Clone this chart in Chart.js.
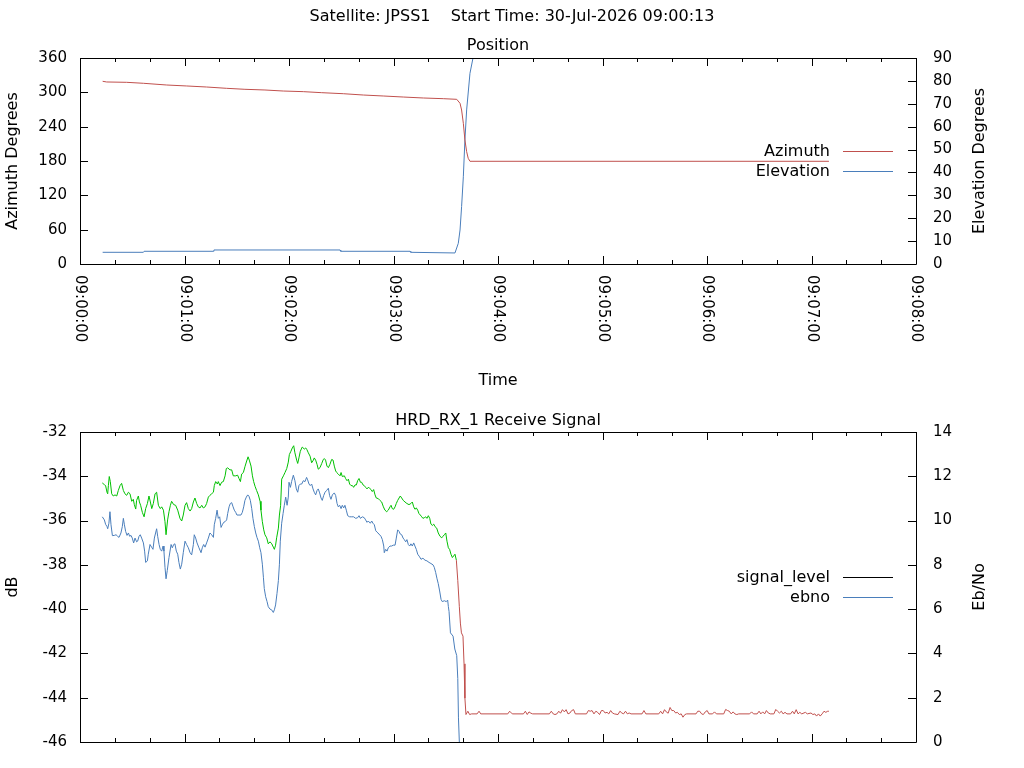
<!DOCTYPE html>
<html>
<head>
<meta charset="utf-8">
<title>JPSS1 pass</title>
<script src="https://cdn.jsdelivr.net/npm/chart.js@4.4.1/dist/chart.umd.min.js"></script>
<style>
  html, body { margin: 0; padding: 0; background: #fff; overflow: hidden; }
  #wrap { position: relative; width: 1024px; height: 768px; }
  canvas { position: absolute; left: 0; }
  #position-chart { top: 0; }
  #signal-chart { top: 400px; }
</style>
</head>
<body>
<div id="wrap">
  <canvas id="position-chart" width="1024" height="400"></canvas>
  <canvas id="signal-chart" width="1024" height="368"></canvas>
</div>
<script>
// seconds after 09:00:00
var timeLabels = ['09:00:00', '09:01:00', '09:02:00', '09:03:00', '09:04:00',
                  '09:05:00', '09:06:00', '09:07:00', '09:08:00'];

// [seconds, degrees]
var azimuth = [
  [13, 319.3], [15.3, 318.1], [26.8, 317.5], [36.4, 315.8], [49.8, 312.8], [61.3, 311.1],
  [72.7, 309.3], [84.2, 307.0], [94.7, 305.3], [106.2, 304.1], [116.7, 302.3], [128.2, 301.2],
  [138.8, 299.4], [151.2, 297.6], [162.7, 295.3], [174.1, 293.6], [185.6, 291.8], [197.1, 290.1],
  [208.6, 288.9], [216.3, 287.8], [218.2, 280.8], [219.1, 269.1], [220.1, 245.9], [221.0, 216.7],
  [222.0, 196.3], [222.9, 184.7], [223.9, 179.5], [430, 179.5]
];
var elevation = [
  [13, 5.11], [36.4, 5.11], [36.8, 5.55], [76.5, 5.55], [76.9, 6.13], [149.3, 6.13],
  [149.7, 5.55], [189.5, 5.55], [189.9, 5.11], [215.3, 4.82], [217.2, 9.03], [218.2, 14.85],
  [219.1, 25.07], [220.1, 38.1], [221.0, 54.2], [222.0, 67.3], [223.9, 83.3], [225.8, 90.6]
];

// [seconds, dB]
var signalLevel = [
  [12.8,-35.83],[14.0,-35.97],[14.7,-36.17],[15.5,-36.27],[15.9,-36.37],[16.6,-36.12],[17.2,-35.60],
  [17.8,-36.19],[18.6,-36.68],[19.7,-36.67],[20.7,-36.64],[21.6,-36.71],[22.4,-36.76],[23.5,-36.56],
  [24.3,-36.27],[24.9,-35.90],[25.5,-36.19],[26.2,-36.49],[27.0,-36.67],[27.8,-36.56],[28.5,-36.71],
  [29.3,-36.67],[30.0,-36.79],[30.8,-37.01],[31.6,-36.79],[32.5,-36.96],[33.1,-36.93],[33.9,-36.71],
  [34.6,-36.64],[35.4,-36.79],[36.4,-37.01],[37.1,-37.38],[37.7,-37.89],[38.7,-37.82],[39.2,-37.52],
  [40.2,-37.08],[41.1,-37.20],[41.9,-37.30],[42.7,-36.79],[43.4,-36.56],[44.0,-36.37],[44.6,-36.71],
  [45.4,-37.08],[46.1,-37.30],[46.9,-37.38],[47.7,-37.15],[48.2,-37.38],[48.8,-38.11],[49.4,-38.63],
  [50.1,-38.26],[51.1,-37.67],[52.3,-37.08],[53.0,-37.23],[53.8,-37.08],[54.5,-37.05],[55.3,-37.38],
  [56.1,-37.52],[56.8,-37.89],[57.6,-38.19],[58.4,-37.97],[59.3,-37.45],[60.3,-36.93],[61.2,-37.08],
  [62.2,-37.23],[63.2,-37.45],[64.1,-37.55],[65.1,-37.08],[65.6,-36.64],[66.4,-36.79],[67.2,-37.01],
  [68.3,-37.23],[69.5,-37.45],[70.2,-37.23],[71.0,-37.08],[71.8,-37.20],[72.7,-37.01],[73.7,-36.79],
  [74.6,-36.56],[75.6,-36.64],[76.6,-36.76],[77.1,-36.19],[77.9,-35.90],[78.7,-35.53],[79.4,-35.90],
  [80.2,-35.83],[81.0,-36.31],[81.7,-36.19],[82.5,-36.08],[83.3,-36.05],[84.2,-35.97],[84.8,-35.68],
  [85.6,-35.38],[86.3,-35.23],[87.1,-35.19],[87.9,-35.38],[88.6,-35.53],[89.4,-35.63],[90.1,-35.75],
  [91.3,-35.75],[92.4,-35.75],[93.2,-35.63],[94.0,-35.38],[94.7,-35.09],[95.5,-34.94],[96.3,-34.84],
  [97.0,-34.90],[97.8,-35.09],[98.6,-35.46],[99.3,-35.90],[100.1,-36.27],[100.9,-36.56],[101.6,-36.76],
  [102.4,-36.93],[103.2,-37.23],[103.9,-37.45],[104.7,-37.97],[105.3,-38.56],[105.8,-39.07],[106.6,-39.44],
  [107.4,-39.66],[108.1,-39.89],[109.1,-40.00],[110.0,-40.03],[111.0,-40.15],[111.6,-40.03],[112.3,-39.81],
  [113.1,-39.30],[113.9,-38.71],[114.5,-37.97],[115.0,-36.93],[115.8,-36.12],[116.6,-35.68],[117.3,-35.31],
  [118.1,-34.94],[118.9,-35.31],[119.6,-34.94],[120.0,-34.27],[120.8,-34.50],[121.5,-34.24],[122.5,-33.95],
  [123.4,-34.20],[124.2,-34.57],[125.0,-34.72],[125.7,-34.42],[126.5,-34.35],[127.3,-34.35],[128.2,-34.20],
  [129.2,-34.24],[130.1,-34.05],[130.7,-34.16],[131.5,-34.35],[132.2,-34.42],[133.0,-34.35],[133.8,-34.57],
  [134.5,-34.72],[135.3,-34.84],[136.1,-34.64],[136.8,-34.57],[137.6,-34.75],[138.4,-34.98],[139.1,-35.09],
  [139.9,-34.87],[140.7,-34.72],[141.6,-34.64],[142.6,-34.54],[143.3,-34.87],[144.1,-35.04],[144.9,-34.84],
  [146.0,-34.75],[146.8,-34.87],[147.6,-35.23],[148.3,-35.38],[149.1,-35.31],[149.9,-35.46],[150.6,-35.31],
  [151.4,-35.43],[152.1,-35.31],[152.9,-35.53],[153.7,-35.78],[154.8,-35.83],[156.0,-35.83],[157.1,-35.83],
  [158.3,-35.90],[159.4,-35.87],[160.2,-35.78],[161.0,-35.90],[162.1,-35.83],[163.2,-35.87],[164.0,-35.97],
  [164.8,-36.08],[165.5,-36.02],[166.7,-36.12],[167.5,-36.02],[168.2,-36.12],[169.0,-36.19],[169.8,-36.46],
  [170.5,-36.52],[171.7,-36.61],[172.8,-36.71],[173.6,-36.86],[174.4,-37.15],[174.7,-37.45],[175.5,-37.30],
  [176.3,-37.38],[177.0,-37.23],[178.0,-37.15],[178.9,-37.15],[179.9,-37.11],[180.9,-37.11],[181.6,-36.79],
  [182.4,-36.42],[183.2,-36.49],[183.9,-36.61],[184.7,-36.64],[185.5,-36.79],[186.2,-36.86],[187.0,-36.96],
  [187.7,-36.86],[188.5,-37.08],[189.3,-37.15],[190.0,-37.05],[190.8,-37.15],[191.6,-37.01],[192.3,-37.15],
  [193.1,-37.30],[193.9,-37.52],[195.0,-37.64],[195.8,-37.75],[196.9,-37.70],[198.1,-37.79],[199.2,-37.82],
  [200.4,-37.89],[201.5,-37.94],[202.7,-38.00],[203.4,-38.11],[204.2,-38.34],[205.0,-38.63],[205.7,-38.85],
  [206.5,-39.18],[207.3,-39.56],[208.0,-39.66],[209.2,-39.62],[210.3,-39.66],[211.1,-39.59],[211.5,-39.89],
  [211.9,-40.11],[212.7,-41.07],[214.2,-41.22],[215.2,-41.80],[216.3,-42.10],[216.9,-43.13],[217.3,-44.91],
  [217.8,-46.0]
];

// [seconds, Eb/No]
var ebno = [
  [12.8,11.70],[14.0,11.62],[14.7,11.58],[15.5,11.28],[15.9,11.21],[16.3,11.58],[16.8,11.99],[17.4,11.76],
  [18.2,11.21],[19.1,11.11],[20.1,11.16],[21.1,11.11],[22.0,11.36],[23.0,11.58],[23.9,11.68],[24.9,11.36],
  [25.8,11.21],[26.8,11.14],[27.8,11.28],[28.7,11.21],[29.7,10.87],[30.6,10.96],[31.2,10.72],[32.0,10.52],
  [32.5,10.91],[33.5,11.11],[34.1,10.84],[34.8,10.69],[35.8,10.37],[36.8,10.17],[37.7,10.54],[38.7,10.77],
  [39.6,11.11],[40.4,10.84],[41.2,10.54],[42.1,10.77],[43.1,11.21],[44.0,11.28],[45.0,10.69],[46.1,10.54],
  [46.9,10.62],[47.9,10.47],[48.8,9.95],[49.4,9.36],[50.3,10.03],[51.1,10.40],[51.9,10.69],[52.6,10.87],
  [53.8,10.72],[54.9,10.69],[56.1,10.47],[57.4,10.10],[58.4,9.98],[59.3,10.25],[60.3,10.69],[61.2,10.81],
  [62.2,10.54],[63.2,10.43],[64.1,10.54],[65.1,10.84],[66.0,11.02],[67.0,10.77],[67.9,10.62],[68.9,10.57],
  [69.9,10.69],[70.8,10.57],[71.8,10.62],[72.7,10.77],[73.7,11.06],[74.6,11.14],[75.6,11.21],[76.6,11.28],
  [77.1,11.58],[77.9,11.76],[78.9,11.65],[79.4,11.76],[80.4,11.58],[81.3,11.73],[82.3,11.76],[83.3,12.02],
  [84.0,12.35],[84.8,12.38],[86.1,12.29],[87.1,12.29],[88.0,12.02],[89.4,12.02],[90.5,12.05],[91.3,11.90],
  [92.1,11.76],[92.8,12.10],[93.8,12.17],[94.7,12.43],[95.7,12.69],[96.5,12.88],[97.2,12.73],[98.2,12.46],
  [99.0,12.02],[99.7,11.76],[100.5,11.55],[101.4,11.36],[102.4,11.16],[103.4,10.87],[103.9,10.47],[104.7,9.95],
  [105.5,9.58],[106.2,9.36],[107.2,9.22],[108.1,8.95],[109.1,9.04],[110.1,8.95],[111.0,8.80],[111.6,8.70],
  [112.3,8.89],[112.9,9.22],[113.9,9.66],[114.5,10.25],[115.2,10.69],[115.8,11.87],[116.8,12.02],[117.7,12.17],
  [118.7,12.35],[119.6,12.64],[120.2,12.98],[121.1,13.13],[121.9,13.28],[122.7,13.38],[123.4,13.06],[124.4,12.73],
  [125.0,12.58],[125.7,12.83],[126.5,13.13],[127.6,13.32],[128.8,13.23],[129.6,13.28],[130.3,13.20],[131.1,13.06],
  [132.1,12.91],[133.0,12.61],[134.0,12.73],[134.5,12.83],[135.3,12.73],[136.1,12.54],[136.8,12.32],[137.8,12.39],
  [138.8,12.58],[139.7,12.76],[140.3,12.80],[141.0,12.73],[141.8,12.46],[142.6,12.39],[143.5,12.54],[144.5,12.76],
  [145.3,12.73],[146.0,12.46],[146.8,12.24],[147.4,12.17],[148.3,12.10],[149.3,12.02],[149.9,12.17],[150.6,11.99],
  [151.8,12.02],[152.5,11.90],[153.3,11.80],[154.1,11.87],[154.8,11.65],[155.6,11.58],[156.4,11.58],[157.1,11.50],
  [157.9,11.61],[158.7,11.61],[159.4,11.80],[160.2,11.90],[161.0,11.73],[161.7,11.73],[162.5,11.61],[163.2,11.58],
  [164.0,11.50],[164.8,11.43],[165.5,11.50],[166.3,11.46],[167.1,11.40],[167.8,11.31],[168.6,11.40],[169.4,11.16],
  [170.1,11.02],[171.3,10.99],[172.2,10.91],[173.2,10.84],[174.2,10.62],[175.1,10.47],[176.1,10.40],[177.0,10.47],
  [178.0,10.62],[178.6,10.69],[179.3,10.54],[180.1,10.51],[180.9,10.62],[181.6,10.77],[182.4,10.91],[183.2,11.02],
  [183.9,11.11],[184.7,11.02],[185.6,10.91],[186.6,10.84],[187.7,10.77],[188.9,10.72],[190.0,10.77],[190.8,10.84],
  [191.6,10.62],[192.3,10.51],[193.1,10.57],[193.9,10.47],[194.6,10.32],[195.4,10.25],[196.2,10.17],[196.9,10.10],
  [197.7,10.13],[198.5,10.17],[199.2,10.10],[200.0,10.22],[200.8,10.10],[201.5,9.84],[202.3,9.78],[203.1,9.84],
  [203.8,9.73],[204.8,9.66],[205.7,9.44],[206.7,9.29],[207.7,9.22],[208.4,9.29],[209.2,9.36],[210.0,9.44],
  [210.7,9.07],[211.5,8.77],[212.2,8.70],[213.0,8.48],[213.8,8.33],[214.5,8.40],[215.3,8.48],[216.1,8.21],
  [216.9,7.30],[217.8,6.11],[218.4,5.37],[219.0,4.93],[219.9,4.78],[220.5,3.53],[221.0,1.98],[221.6,1.24],
  [222.7,1.39],[223.7,1.24],[224.8,1.27],[228.0,1.27],[229.1,1.39],[230.1,1.27],[245.6,1.27],[246.7,1.39],
  [248.2,1.27],[254.6,1.27],[255.7,1.39],[256.8,1.24],[257.8,1.36],[258.9,1.30],[259.9,1.27],[269.5,1.27],
  [270.6,1.39],[271.7,1.27],[272.7,1.24],[273.8,1.27],[274.9,1.39],[275.9,1.30],[277.0,1.46],[278.1,1.36],
  [279.1,1.46],[280.2,1.27],[281.3,1.31],[282.3,1.42],[283.4,1.46],[284.4,1.27],[290.8,1.27],[291.9,1.42],
  [293.0,1.39],[294.0,1.42],[295.1,1.27],[296.2,1.39],[297.2,1.34],[298.3,1.24],[299.4,1.42],[300.4,1.42],
  [301.5,1.31],[302.6,1.34],[303.6,1.27],[304.7,1.42],[305.7,1.31],[306.8,1.27],[308.9,1.24],[310.0,1.39],
  [311.1,1.31],[312.1,1.27],[313.2,1.39],[314.3,1.27],[315.3,1.31],[316.4,1.27],[322.7,1.27],[323.8,1.42],
  [324.9,1.27],[332.3,1.27],[333.4,1.39],[334.5,1.27],[335.6,1.46],[336.6,1.36],[337.7,1.30],[338.8,1.56],
  [339.8,1.42],[340.9,1.42],[342.0,1.31],[343.0,1.34],[344.1,1.24],[345.2,1.27],[346.2,1.12],[347.3,1.24],
  [348.3,1.27],[353.7,1.27],[354.7,1.39],[355.8,1.39],[356.9,1.27],[357.9,1.24],[359.0,1.36],[360.1,1.42],
  [361.1,1.27],[363.2,1.27],[364.3,1.36],[365.4,1.27],[369.6,1.27],[370.7,1.47],[371.8,1.42],[372.8,1.39],
  [373.9,1.27],[375.0,1.36],[376.0,1.27],[377.1,1.24],[378.2,1.27],[384.5,1.27],[385.6,1.36],[386.7,1.27],
  [388.8,1.27],[389.9,1.39],[390.9,1.27],[392.0,1.36],[393.1,1.27],[394.1,1.42],[395.2,1.31],[396.3,1.27],
  [398.4,1.27],[399.5,1.47],[400.5,1.39],[401.6,1.31],[402.7,1.39],[403.7,1.27],[404.8,1.34],[405.9,1.27],
  [408.0,1.27],[409.1,1.39],[410.1,1.27],[411.2,1.46],[412.3,1.27],[413.3,1.34],[414.4,1.27],[416.5,1.34],
  [417.6,1.27],[419.7,1.31],[420.8,1.24],[421.9,1.27],[422.9,1.17],[424.0,1.27],[425.0,1.17],[426.1,1.27],
  [427.2,1.39],[428.2,1.34],[429.3,1.39],[430.0,1.39]
];

var ebnoLockLevel = 8;   // below this the trace is drawn red

var RED = '#c0504d', BLUE = '#4a7ebb', GREEN = '#00c000';

Chart.defaults.font.family = '"DejaVu Sans", sans-serif';
Chart.defaults.font.size = 15;
Chart.defaults.color = '#000';

var textFont = {size: 16, weight: 'normal', lineHeight: 1.25};

function pts(arr) {
  return arr.map(function (p) { return {x: p[0], y: p[1]}; });
}

// gnuplot look: closed border, inward ticks, rotated time labels, key on the right
var gnuFrame = {
  id: 'gnuFrame',
  afterDraw: function (chart, args, o) {
    var ctx = chart.ctx, a = chart.chartArea, xs = chart.scales.x;
    ctx.save();
    ctx.strokeStyle = '#000';
    ctx.lineWidth = 1;
    ctx.beginPath();
    ctx.rect(a.left + 0.5, a.top + 0.5, a.right - a.left, a.bottom - a.top);
    xs.ticks.forEach(function (t) {
      var px = Math.round(xs.getPixelForValue(t.value)) + 0.5;
      var len = t.value % 60 === 0 ? 8 : 4;
      ctx.moveTo(px, a.top); ctx.lineTo(px, a.top + len);
      ctx.moveTo(px, a.bottom); ctx.lineTo(px, a.bottom - len);
    });
    chart.scales.y.ticks.forEach(function (t) {
      var py = Math.round(chart.scales.y.getPixelForValue(t.value)) + 0.5;
      ctx.moveTo(a.left, py); ctx.lineTo(a.left + 8, py);
    });
    chart.scales.y1.ticks.forEach(function (t) {
      var py = Math.round(chart.scales.y1.getPixelForValue(t.value)) + 0.5;
      ctx.moveTo(a.right, py); ctx.lineTo(a.right - 8, py);
    });
    ctx.stroke();

    ctx.fillStyle = '#000';
    if (o.timeLabels) {
      ctx.font = '15px "DejaVu Sans"';
      xs.ticks.forEach(function (t) {
        if (t.value % 60 !== 0) return;
        ctx.save();
        ctx.translate(xs.getPixelForValue(t.value), a.bottom + 11);
        ctx.rotate(Math.PI / 2);
        ctx.textAlign = 'left';
        ctx.textBaseline = 'middle';
        ctx.fillText(o.timeLabels[t.value / 60], 0, 0);
        ctx.restore();
      });
    }
    ctx.font = '16px "DejaVu Sans"';
    var mid = (a.top + a.bottom) / 2;
    if (o.rightTitle) {
      ctx.save();
      ctx.translate(a.right + 64, mid);
      ctx.rotate(-Math.PI / 2);
      ctx.textAlign = 'center';
      ctx.textBaseline = 'middle';
      ctx.fillText(o.rightTitle, 0, 0);
      ctx.restore();
    }
    o.keyColors.forEach(function (col, i) {
      var y = Math.round(mid - 9.75 + i * 19.5) + 0.5;
      ctx.beginPath();
      ctx.strokeStyle = col;
      ctx.moveTo(a.right - 73, y);
      ctx.lineTo(a.right - 23, y);
      ctx.stroke();
      ctx.textAlign = 'right';
      ctx.textBaseline = 'middle';
      ctx.fillText(chart.data.datasets[i].label, a.right - 86, y);
    });
    ctx.restore();
  }
};

function timeAxis(height, title) {
  return {
    type: 'linear', min: 0, max: 480,
    ticks: {stepSize: 20, display: false},
    grid: {display: false, drawTicks: false},
    border: {display: false},
    title: title ? {display: true, text: title, font: textFont, padding: {top: 0, bottom: 9}} : {display: false},
    afterFit: function (s) { s.height = height; }
  };
}

function valueAxis(pos, min, max, step, title) {
  return {
    position: pos, min: min, max: max,
    ticks: {stepSize: step, padding: pos === 'left' ? 13 : 17},
    grid: {display: false, drawTicks: false},
    border: {display: false},
    title: title ? {display: true, text: title, font: textFont, padding: {top: 3, bottom: 0}} : {display: false},
    afterFit: function (s) { s.width = pos === 'left' ? 80 : 108; }
  };
}

var lineStyle = {borderWidth: 1, pointRadius: 0, tension: 0, fill: false};

new Chart(document.getElementById('position-chart'), {
  type: 'line',
  data: {
    datasets: [
      Object.assign({label: 'Azimuth', data: pts(azimuth), borderColor: RED, yAxisID: 'y'}, lineStyle),
      Object.assign({label: 'Elevation', data: pts(elevation), borderColor: BLUE, yAxisID: 'y1'}, lineStyle)
    ]
  },
  options: {
    responsive: false,
    animation: false,
    layout: {padding: 0},
    scales: {
      x: timeAxis(136, 'Time'),
      y: valueAxis('left', 0, 360, 60, 'Azimuth Degrees'),
      y1: valueAxis('right', 0, 90, 10, null)
    },
    plugins: {
      legend: {display: false},
      tooltip: {enabled: false},
      title: {
        display: true,
        text: 'Satellite: JPSS1    Start Time: 30-Jul-2026 09:00:13',
        font: textFont,
        padding: {top: 7, bottom: 1}
      },
      subtitle: {
        display: true,
        text: 'Position',
        fullSize: false,
        font: textFont,
        padding: {top: 8, bottom: 2}
      },
      gnuFrame: {timeLabels: timeLabels, rightTitle: 'Elevation Degrees', keyColors: [RED, BLUE]}
    }
  },
  plugins: [gnuFrame]
});

new Chart(document.getElementById('signal-chart'), {
  type: 'line',
  data: {
    datasets: [
      Object.assign({
        label: 'signal_level', data: pts(signalLevel), borderColor: BLUE, yAxisID: 'y'
      }, lineStyle),
      Object.assign({
        label: 'ebno', data: pts(ebno), borderColor: GREEN, yAxisID: 'y1',
        segment: {borderColor: function (c) { return c.p1.parsed.y >= ebnoLockLevel ? GREEN : RED; }}
      }, lineStyle)
    ]
  },
  options: {
    responsive: false,
    animation: false,
    layout: {padding: 0},
    scales: {
      x: timeAxis(20, null),
      y: valueAxis('left', -46, -32, 2, 'dB'),
      y1: valueAxis('right', 0, 14, 2, null)
    },
    plugins: {
      legend: {display: false},
      tooltip: {enabled: false},
      title: {
        display: true,
        text: 'HRD_RX_1 Receive Signal',
        fullSize: false,
        font: textFont,
        padding: {top: 11, bottom: 1}
      },
      // the key in the original shows black / blue although the traces are blue / green-red
      gnuFrame: {rightTitle: 'Eb/No', keyColors: ['#000000', BLUE]}
    }
  },
  plugins: [gnuFrame]
});
</script>
</body>
</html>
